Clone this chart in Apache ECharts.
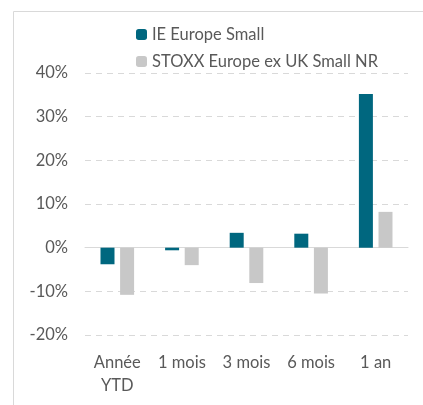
<!DOCTYPE html>
<html><head><meta charset="utf-8">
<script src="https://cdn.jsdelivr.net/npm/echarts@6/dist/echarts.min.js"></script>
<style>html,body{margin:0;padding:0;background:#fff}#c{width:423px;height:405px}</style>
</head><body><div id="c"></div>
<script>
const categories = ["Année\nYTD", "1 mois", "3 mois", "6 mois", "1 an"];
const seriesNames = ["IE Europe Small", "STOXX Europe ex UK Small NR"];
const ieValues = [-3.8, -0.6, 3.4, 3.2, 35.2];
const stoxxValues = [-10.8, -4.0, -8.1, -10.5, 8.2];
const yTicks = [-20, 40, 10];

const font = 'Lato, "Open Sans", sans-serif';
const chart = echarts.init(document.getElementById('c'));
chart.setOption({
  animation: false,
  graphic: [{type:'rect', shape:{x:13.5,y:11.5,width:420,height:400}, style:{fill:'none', stroke:'#d9d9d9', lineWidth:1}}],
  legend: {
    orient: 'vertical', left: 131, top: 21, itemWidth: 11, itemHeight: 11, itemGap: 10,
    textStyle: {color:'#595959', fontSize: 16.5, fontFamily: font},
    data: seriesNames
  },
  grid: {left: 85, right: 15, top: 73, bottom: 70},
  xAxis: {
    type: 'category', data: categories,
    axisLine: {show:true, onZero:true, lineStyle:{color:'#d9d9d9', width:1}},
    axisTick: {show:false},
    axisLabel: {color:'#595959', fontSize:16.5, fontFamily: font, margin: 16, interval:0, lineHeight: 23},
    position: 'bottom'
  },
  yAxis: {
    type: 'value', min: yTicks[0], max: yTicks[1], interval: yTicks[2],
    axisLabel: {formatter: '{value}%', color:'#595959', fontSize:16.5, fontFamily: font, margin: 17},
    splitLine: {lineStyle: {color:'#d9d9d9', type:[6,5], width:1.2}},
    axisLine: {show:false}, axisTick:{show:false}
  },
  series: [
    {name: seriesNames[0], type:'bar', data: ieValues, barWidth: 14, barGap: '40%', itemStyle:{color:'#00677F'}},
    {name: seriesNames[1], type:'bar', data: stoxxValues, barWidth: 14, itemStyle:{color:'#C8C8C8'}}
  ]
});
</script></body></html>
